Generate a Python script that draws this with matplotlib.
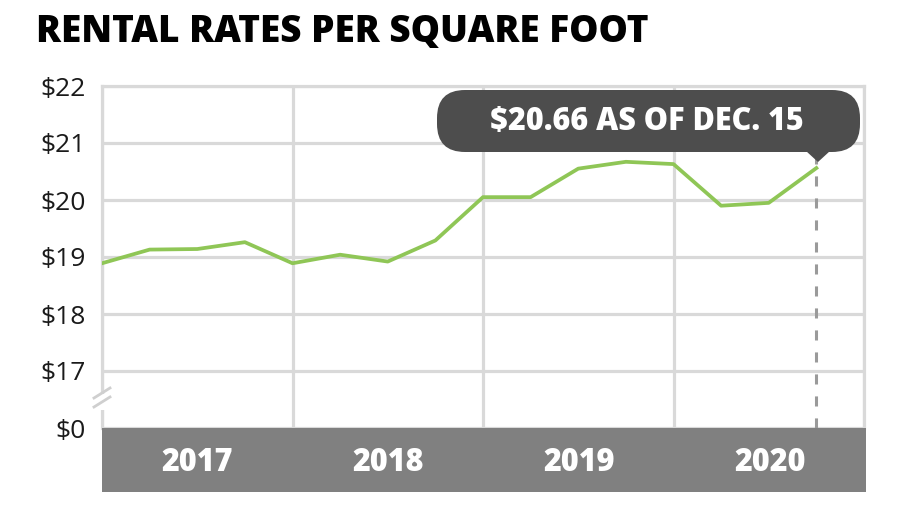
import matplotlib
matplotlib.use("Agg")
from matplotlib import pyplot as plt
from matplotlib.patches import FancyBboxPatch, Polygon, Rectangle
from matplotlib.lines import Line2D

# quarterly rental rates, 2017 Q1 .. 2020 Q4
quarters = list(range(16))
rates = [18.89, 19.13, 19.14, 19.26,
         18.89, 19.04, 18.92, 19.29,
         20.05, 20.05, 20.55, 20.67,
         20.63, 19.90, 19.95, 20.56]
years = ["2017", "2018", "2019", "2020"]
year_mid = [2, 6, 10, 14]
y_ticks = [16, 17, 18, 19, 20, 21, 22]
y_labels = ["$0", "$17", "$18", "$19", "$20", "$21", "$22"]
title = "RENTAL RATES PER SQUARE FOOT"
callout = "$20.66 AS OF DEC. 15"

W, H = 900, 516
grid_c = "#d9d9d9"
body = ["Open Sans", "DejaVu Sans"]

fig = plt.figure(figsize=(W / 100, H / 100), dpi=100)

ax = fig.add_axes([102 / W, 1 - 428 / H, 762 / W, 342 / H])
ax.set_xlim(0, 16)
ax.set_ylim(16, 22)
ax.set_xticks([0, 4, 8, 12, 16])
ax.set_yticks(y_ticks)
ax.set_yticklabels(y_labels, family=body, fontsize=19, color="#1a1a1a")
ax.tick_params(axis="x", length=0, labelbottom=False)
ax.tick_params(axis="y", length=0, pad=12)
ax.grid(color=grid_c, lw=2.3)
ax.set_axisbelow(True)
for s in ["left", "right", "top"]:
    ax.spines[s].set_color(grid_c)
    ax.spines[s].set_linewidth(2.3)
ax.spines["bottom"].set_visible(False)

ax.plot(quarters, rates, color="#8fc656", lw=2.7, zorder=3)

# dashed marker down from the latest value
ax.plot([quarters[-1], quarters[-1]], [16, 21.2], color="#9a9a9a", lw=2.2,
        ls=(0, (3.3, 3.9)), zorder=2)

# year band
ax2 = fig.add_axes([102 / W, 1 - 492 / H, 764 / W, 64 / H])
ax2.set_xlim(0, 16)
ax2.set_ylim(0, 1)
ax2.set_facecolor("#808080")
ax2.set_xticks([])
ax2.set_yticks([])
for s in ax2.spines.values():
    s.set_visible(False)
for yr, xm in zip(years, year_mid):
    ax2.text(xm, 0.45, yr, ha="center", va="center", color="white",
             fontsize=22, fontweight="heavy", family=body)

# axis break on the left spine
fig.add_artist(Rectangle((97 / W, 1 - 410 / H), 10 / W, 16 / H, transform=fig.transFigure,
                         facecolor="white", edgecolor="none", zorder=5))
for dy in (0, 9):
    fig.add_artist(Line2D([94 / W, 110 / W], [1 - (398 + dy) / H, 1 - (388 + dy) / H],
                          transform=fig.transFigure, color="#cfcfcf", lw=2, zorder=6))

# callout bubble
box = FancyBboxPatch((437 / W, 1 - 152 / H), 423 / W, 62 / H,
                     boxstyle="round,pad=0,rounding_size=%f" % (28 / W),
                     mutation_aspect=W / H, transform=fig.transFigure,
                     facecolor="#4d4d4d", edgecolor="none", zorder=10)
fig.add_artist(box)
tri = Polygon([(806 / W, 1 - 151 / H), (830 / W, 1 - 151 / H), (818 / W, 1 - 162 / H)],
              closed=True, transform=fig.transFigure, facecolor="#4d4d4d",
              edgecolor="none", zorder=10)
fig.add_artist(tri)
fig.text(647 / W, 1 - 122 / H, callout, ha="center", va="center", color="white",
         fontsize=22, fontweight="heavy", family=body, zorder=11)

fig.text(36 / W, 1 - 33 / H, title, ha="left", va="center", color="black",
         fontsize=26.6, fontweight="heavy", family=body)

fig.savefig("out.png", dpi=100)
